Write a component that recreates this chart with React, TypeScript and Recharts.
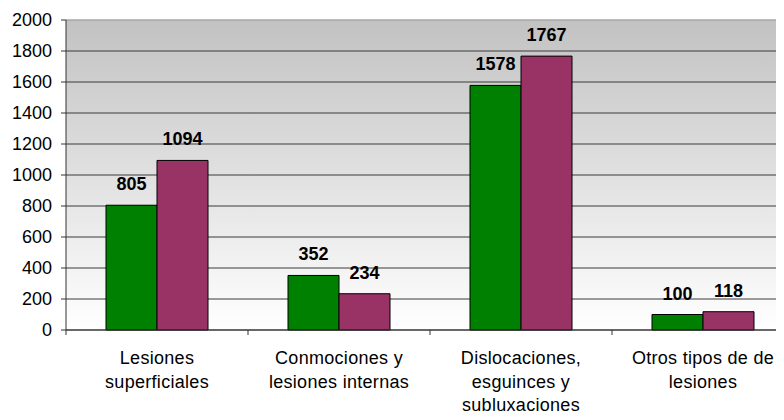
import React from "react";
import { BarChart, Bar, XAxis, YAxis, CartesianGrid, LabelList, ReferenceLine } from "recharts";

const categories = [
  "Lesiones superficiales",
  "Conmociones y lesiones internas",
  "Dislocaciones, esguinces y subluxaciones",
  "Otros tipos de de lesiones",
];
const categoryLines = [
  ["Lesiones", "superficiales"],
  ["Conmociones y", "lesiones internas"],
  ["Dislocaciones,", "esguinces y", "subluxaciones"],
  ["Otros tipos de de", "lesiones"],
];
const seriesA = [805, 352, 1578, 100];
const seriesB = [1094, 234, 1767, 118];
const yTicks = [0, 200, 400, 600, 800, 1000, 1200, 1400, 1600, 1800, 2000];

const data = categories.map((c, i) => ({ name: c, a: seriesA[i], b: seriesB[i] }));

const CHART_W = 800;
const CHART_H = 412;
const MARGIN = { top: 12, right: 14, bottom: 0, left: 0 };
const Y_W = 58;
const BAND = (CHART_W - MARGIN.left - MARGIN.right - Y_W) / categories.length;
const FONT = "'Liberation Sans', Arial, sans-serif";

const XTick = (props: any) => {
  const { x, y, index } = props;
  const lines = categoryLines[index] || [];
  const half = BAND / 2;
  return (
    <g>
      <line x1={x - half} x2={x - half} y1={y} y2={y + 5} stroke="#333" strokeWidth={1} />
      {index === categories.length - 1 && (
        <line x1={x + half} x2={x + half} y1={y} y2={y + 5} stroke="#333" strokeWidth={1} />
      )}
      <text
        x={x}
        y={y + 34}
        textAnchor="middle"
        fontFamily={FONT}
        fontSize={18}
        letterSpacing={0.3}
        fill="#000"
      >
        {lines.map((l: string, i: number) => (
          <tspan key={i} x={x} dy={i === 0 ? 0 : 23.5}>
            {l}
          </tspan>
        ))}
      </text>
    </g>
  );
};

export default function App() {
  return (
    <div style={{ width: 776, height: 412, overflow: "hidden" }}>
      <BarChart width={CHART_W} height={CHART_H} data={data} margin={MARGIN} barGap={0} barSize={51}>
        <defs>
          <linearGradient id="bg" x1="0" y1="0" x2="0" y2="1">
            <stop offset="0%" stopColor="#c2c2c2" />
            <stop offset="100%" stopColor="#ffffff" />
          </linearGradient>
        </defs>
        <CartesianGrid vertical={false} stroke="#3a3a3a" fill="url(#bg)" fillOpacity={1} />
        <ReferenceLine y={2000} stroke="#dcdcdc" strokeWidth={1} />
        <XAxis
          dataKey="name"
          tickLine={false}
          tickSize={0}
          tickMargin={0}
          height={90}
          interval={0}
          tick={<XTick />}
          axisLine={{ stroke: "#333", strokeWidth: 1 }}
        />
        <YAxis
          width={Y_W}
          domain={[0, 2000]}
          ticks={yTicks}
          interval={0}
          tickSize={5}
          tickMargin={9}
          tickLine={{ stroke: "#333" }}
          axisLine={{ stroke: "#333", strokeWidth: 1 }}
          tick={{ fontFamily: FONT, fontSize: 18, fill: "#000" }}
        />
        <Bar dataKey="a" fill="#008000" stroke="#000" strokeWidth={1} isAnimationActive={false}>
          <LabelList dataKey="a" position="top" offset={15} style={{ fontFamily: FONT, fontSize: 18, fontWeight: "bold", fill: "#000" }} />
        </Bar>
        <Bar dataKey="b" fill="#993366" stroke="#000" strokeWidth={1} isAnimationActive={false}>
          <LabelList dataKey="b" position="top" offset={15} style={{ fontFamily: FONT, fontSize: 18, fontWeight: "bold", fill: "#000" }} />
        </Bar>
      </BarChart>
    </div>
  );
}
